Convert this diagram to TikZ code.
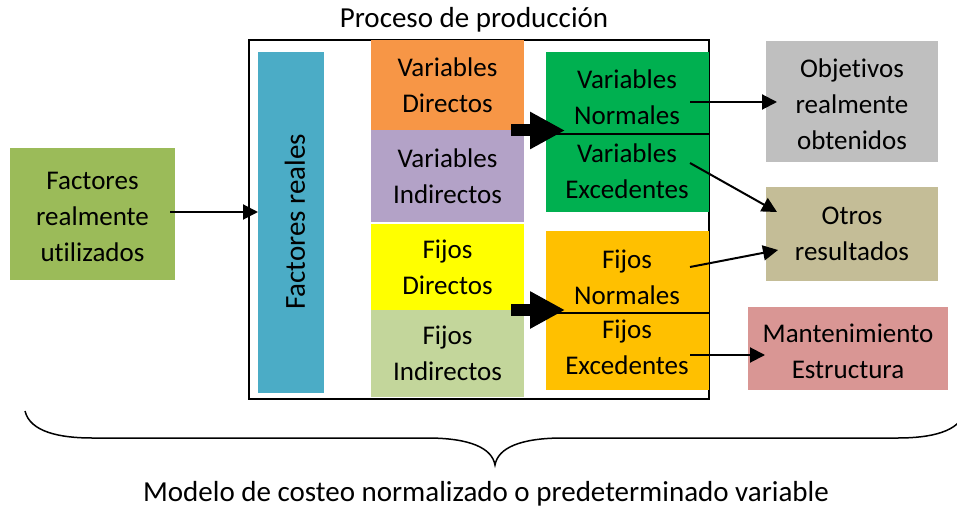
\documentclass[tikz,border=0pt]{standalone}
\usepackage{fontspec}
\setmainfont{Carlito}[Ligatures=NoCommon]
\usetikzlibrary{arrows.meta}
\definecolor{cFRU}{HTML}{9BBB59}
\definecolor{cFR}{HTML}{4BACC6}
\definecolor{cVD}{HTML}{F79646}
\definecolor{cVI}{HTML}{B3A2C7}
\definecolor{cFD}{HTML}{FFFF00}
\definecolor{cFI}{HTML}{C3D69B}
\definecolor{cVN}{HTML}{00B050}
\definecolor{cFN}{HTML}{FFC000}
\definecolor{cOB}{HTML}{BFBFBF}
\definecolor{cOT}{HTML}{C4BD97}
\definecolor{cMT}{HTML}{D99694}
\begin{document}
\begin{tikzpicture}[x=1pt,y=-1pt,
  font=\fontsize{27}{36}\selectfont,
  cbox/.style={rectangle, inner sep=0pt, align=center, text=black},
  txt/.style={inner sep=0pt, align=center, text=black},
  bigtxt/.style={inner sep=0pt, align=center, text=black, font=\fontsize{29}{36}\selectfont},
  arr/.style={-{Triangle[length=15pt,width=15pt]}, line width=2pt},
  bigarr/.style={-{Triangle[length=35pt,width=35pt]}, line width=12pt},
  divider/.style={line width=2pt}]
\useasboundingbox (0,0) rectangle (957,510);
% frame
\node[cbox, draw, line width=1.5pt, minimum width=460pt, minimum height=359pt] (proc) at (479,219.5) {};
\node[bigtxt] (title) at (474,20) {Proceso de producción};
% left
\node[cbox, fill=cFRU, minimum width=165pt, minimum height=132pt] (fru) at (92.5,214) {};
\node[txt] (frut) at (92.5,217) {\fontsize{27}{40}\selectfont Factores\\realmente\\utilizados};
\node[cbox, fill=cFR, minimum width=66pt, minimum height=341pt] (fr) at (291,222.5) {};
\node[bigtxt, rotate=90] (frt) at (295,222) {Factores reales};
% middle
\node[cbox, fill=cVD, minimum width=153pt, minimum height=90pt] (vd) at (447.5,85) {Variables\\Directos};
\node[cbox, fill=cVI, minimum width=153pt, minimum height=92pt] (vi) at (447.5,176) {Variables\\Indirectos};
\node[cbox, fill=cFD, minimum width=153pt, minimum height=86pt] (fd) at (447.5,267) {Fijos\\Directos};
\node[cbox, fill=cFI, minimum width=153pt, minimum height=87pt] (fi) at (447.5,353.5) {Fijos\\Indirectos};
% right inner
\node[cbox, fill=cVN, minimum width=163pt, minimum height=160pt] (vbox) at (627.5,132) {};
\node[cbox, fill=cFN, minimum width=163pt, minimum height=159pt] (fbox) at (627.5,310.5) {};
\node[txt] (vn) at (627,97) {Variables\\Normales};
\node[txt] (ve) at (627,171) {Variables\\Excedentes};
\node[txt] (fn) at (627,277) {Fijos\\Normales};
\node[txt] (fe) at (627,347) {Fijos\\Excedentes};
% outcomes
\node[cbox, fill=cOB, minimum width=172pt, minimum height=121pt] (ob) at (852,101.5) {};
\node[txt] (obt) at (852,104) {\fontsize{27}{37}\selectfont Objetivos\\realmente\\obtenidos};
\node[cbox, fill=cOT, minimum width=172pt, minimum height=94pt] (ot) at (852,234) {Otros\\resultados};
\node[cbox, fill=cMT, minimum width=200pt, minimum height=83pt] (mt) at (848,348.5) {};
\node[txt] (mtt) at (848,351) {\fontsize{27}{41}\selectfont Mantenimiento\\Estructura};
% dividers
\coordinate (d1s) at (556,134); \coordinate (d1e) at (709,134);
\coordinate (d2s) at (556,313); \coordinate (d2e) at (709,313);
\draw[divider] (d1s) -- (d1e);
\draw[divider] (d2s) -- (d2e);
% big arrows
\coordinate (b1s) at (511,130.5); \coordinate (b1e) at (565,130.5);
\coordinate (b2s) at (511,310); \coordinate (b2e) at (565,310);
\draw[bigarr] (b1s) -- (b1e);
\draw[bigarr] (b2s) -- (b2e);
% thin arrows
\coordinate (a0s) at (170,212); \coordinate (a0e) at (258,212);
\coordinate (a1s) at (690,102); \coordinate (a1e) at (777,102);
\coordinate (a2s) at (690,163); \coordinate (a2e) at (777,212);
\coordinate (a3s) at (690,267); \coordinate (a3e) at (778,250);
\coordinate (a4s) at (690,355); \coordinate (a4e) at (765,355);
\draw[arr] (a0s) -- (a0e);
\draw[arr] (a1s) -- (a1e);
\draw[arr] (a2s) -- (a2e);
\draw[arr] (a3s) -- (a3e);
\draw[arr] (a4s) -- (a4e);
% brace
\begin{scope}
\clip (0,0) rectangle (957,510);
\draw[line width=1.5pt] (25,411) .. controls (30,432) and (60,438) .. (92,438) -- (427,438)
  .. controls (470,438) and (492,448) .. (495,465)
  .. controls (498,448) and (520,438) .. (563,438) -- (898,438)
  .. controls (930,438) and (960,432) .. (965,411);
\end{scope}
\node[bigtxt] (model) at (486,494) {Modelo de costeo normalizado o predeterminado variable};
\end{tikzpicture}
\end{document}
